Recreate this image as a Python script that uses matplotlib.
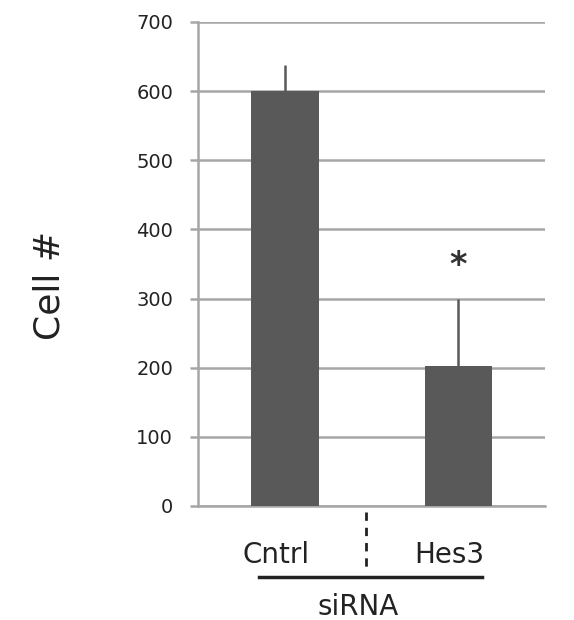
import numpy as np
import matplotlib.pyplot as plt
from matplotlib.transforms import blended_transform_factory

# -----------------------------
# DATA
# -----------------------------
groups = ['Cntrl', 'Hes3']
cell_counts = [600, 203]
err_upper = [38, 97]
y_ticks = [0, 100, 200, 300, 400, 500, 600, 700]
star_value = 348

bar_col = '#595959'
grid_col = '#a6a6a6'

plt.rcParams['font.family'] = ['DejaVu Sans']

fig = plt.figure(figsize=(5.74, 6.2), dpi=100)
ax = fig.add_axes([0.345, 0.184, 0.605, 0.7806])

x = np.arange(len(groups))
ax.bar(x, cell_counts, width=0.39, color=bar_col, zorder=3)
ax.errorbar(x, cell_counts, yerr=[np.zeros(len(x)), err_upper], fmt='none',
            ecolor=bar_col, elinewidth=1.8, capsize=0, zorder=2)

# significance star over Hes3
ax.text(x[1], star_value, '*', ha='center', va='center', fontsize=24,
        fontweight='bold', color='#333333')

ax.set_xlim(-0.5, 1.5)
ax.set_ylim(0, 700)
ax.set_yticks(y_ticks)
ax.yaxis.grid(True, color=grid_col, linewidth=1.8, zorder=0)
ax.set_axisbelow(True)
for side in ['top', 'right']:
    ax.spines[side].set_visible(False)
ax.spines['left'].set_color(grid_col)
ax.spines['left'].set_linewidth(1.8)
ax.spines['bottom'].set_color(grid_col)
ax.spines['bottom'].set_linewidth(1.8)
ax.tick_params(axis='y', direction='out', length=6, width=1.8, color=grid_col,
               labelsize=14, pad=12, labelcolor='#222222')
ax.set_xticks([])

# category labels and siRNA bracket below the axis
trans = blended_transform_factory(ax.transData, ax.transAxes)
for xi, g in zip(x, groups):
    ax.text(xi - 0.05, -0.118, g, transform=trans, ha='center', va='baseline',
            fontsize=20, color='#222222', clip_on=False)
ax.plot([0.47, 0.47], [-0.0124, -0.128], transform=trans, color='#222222',
        linestyle=(0, (3, 2.5)), linewidth=2, clip_on=False)
ax.plot([-0.147, 1.136], [-0.147, -0.147], transform=trans, color='#222222',
        linewidth=2.5, clip_on=False)
ax.text(0.42, -0.225, 'siRNA', transform=trans, ha='center', va='baseline',
        fontsize=20, color='#222222', clip_on=False)

fig.text(50 / 574, 1 - 285 / 620, 'Cell #', rotation=90, ha='center', va='center',
         fontsize=26, color='#222222')

plt.savefig('out.png', dpi=100)
